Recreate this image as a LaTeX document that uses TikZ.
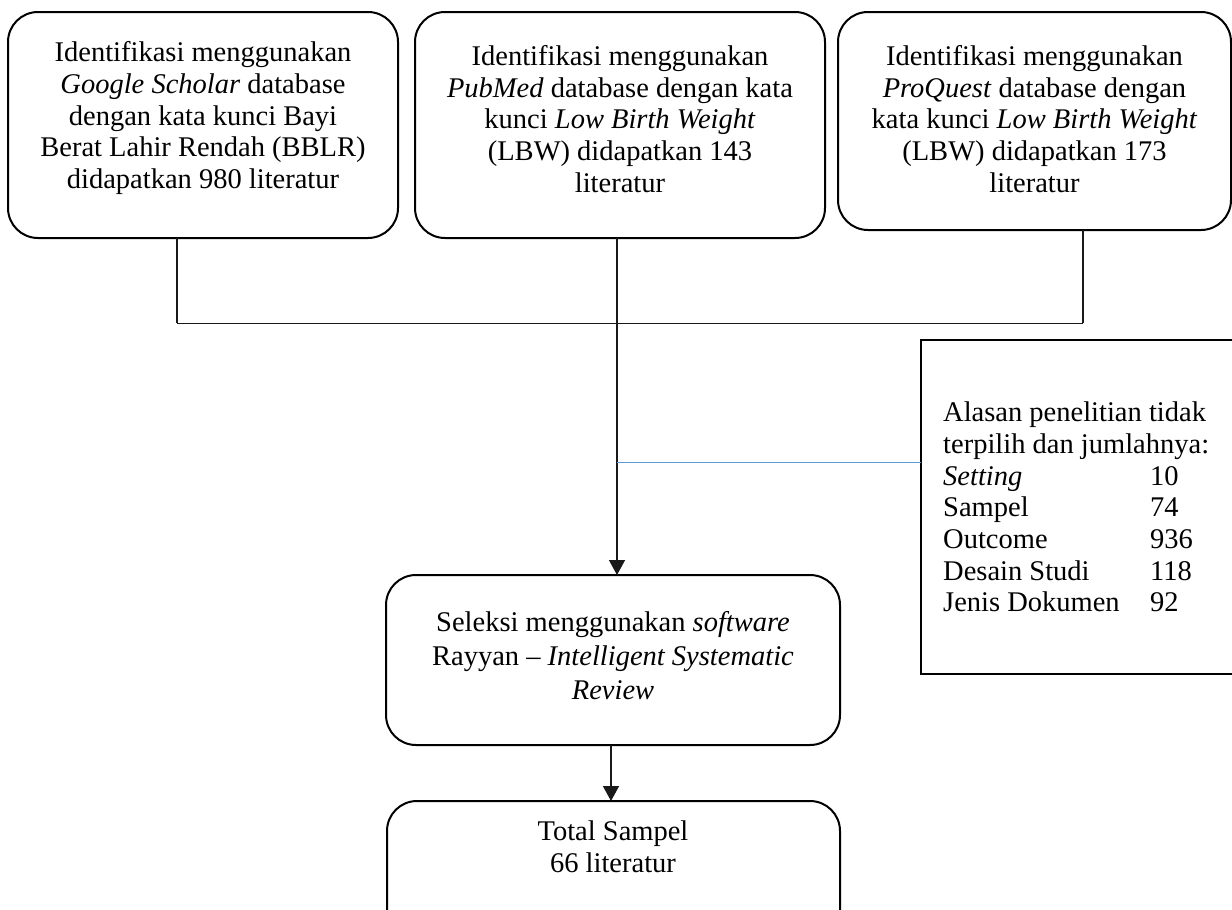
\documentclass[tikz,border=0pt]{standalone}
\usepackage{fontspec}
\setmainfont{Liberation Serif}
\usetikzlibrary{arrows.meta}
\definecolor{wordblue}{RGB}{91,155,213}
\tikzset{
  rbox/.style={draw, line width=2pt, rounded corners=30pt, inner sep=0pt, outer sep=0pt},
  sqbox/.style={draw, line width=2pt, inner sep=0pt, outer sep=0pt},
  txt/.style={align=center, inner sep=0pt, font=\fontsize{28.5}{31.7}\selectfont},
  conn/.style={line width=1.4pt, draw=black!90},
  thin conn/.style={line width=1pt, draw=black!90},
  arr/.style={conn, -{Triangle[width=16pt,length=15pt]}},
  blueline/.style={line width=1pt, draw=wordblue}
}
\begin{document}
\begin{tikzpicture}[x=1pt,y=-1pt]
\clip (0,0) rectangle (1232,910);
\fill[white] (0,0) rectangle (1232,910);
% top boxes
\node[rbox, minimum width=390pt, minimum height=226pt] (b1) at (203,125) {};
\node[rbox, minimum width=410pt, minimum height=226pt] (b2) at (620,125) {};
\node[rbox, minimum width=393pt, minimum height=218pt] (b3) at (1034.5,121) {};
\node[txt] (t1) at (203,118) {Identifikasi menggunakan\\\textit{Google Scholar} database\\dengan kata kunci Bayi\\Berat Lahir Rendah (BBLR)\\didapatkan 980 literatur};
\node[txt] (t2) at (620,119) {Identifikasi menggunakan\\\textit{PubMed} database dengan kata\\kunci \textit{Low Birth Weight}\\(LBW) didapatkan 143\\literatur};
\node[txt] (t3) at (1034.5,119) {Identifikasi menggunakan\\\textit{ProQuest} database dengan\\kata kunci \textit{Low Birth Weight}\\(LBW) didapatkan 173\\literatur};
% selection and total
\node[rbox, minimum width=454pt, minimum height=170pt] (sel) at (613,660) {};
\node[txt, font=\fontsize{28.5}{34}\selectfont] (tsel) at (613,656) {Seleksi menggunakan \textit{software}\\Rayyan -- \textit{Intelligent Systematic}\\\textit{Review}};
\node[rbox, minimum width=453pt, minimum height=139pt] (tot) at (613.5,870.5) {};
\node[txt] (ttot) at (613,847) {Total Sampel\\66 literatur};
% exclusion box
\node[sqbox, minimum width=324pt, minimum height=334pt] (rb) at (1083,507) {};
\node[txt, align=left, anchor=west] (trb) at (943,507) {Alasan penelitian tidak\\terpilih dan jumlahnya:\\\makebox[207pt][l]{\textit{Setting}}10\\\makebox[207pt][l]{Sampel}74\\\makebox[207pt][l]{Outcome}936\\\makebox[207pt][l]{Desain Studi}118\\\makebox[207pt][l]{Jenis Dokumen}92};
% connectors
\coordinate (m1) at (177,323);
\coordinate (m2) at (617,323);
\coordinate (m3) at (1083,323);
\coordinate (bl) at (617,462);
\coordinate (a2) at (611,745);
\draw[conn] (b1.south -| m1) -- (m1);
\draw[conn] (b2.south -| m2) -- (m2);
\draw[conn] (b3.south -| m3) -- (m3);
\draw[thin conn] (m1) -- (m3);
\draw[arr] (m2) -- (sel.north -| m2);
\draw[blueline] (bl) -- (bl -| rb.west);
\draw[arr] (sel.south -| a2) -- (tot.north -| a2);
\end{tikzpicture}
\end{document}
